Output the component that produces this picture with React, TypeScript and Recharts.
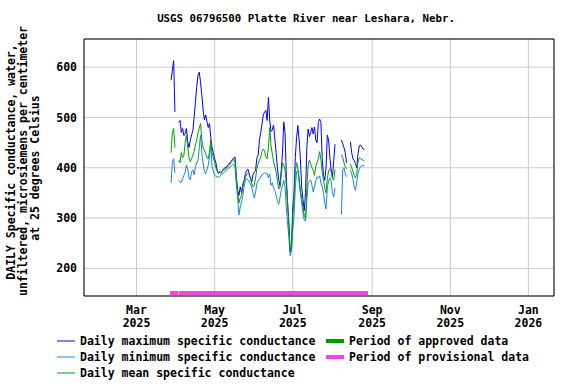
import { ComposedChart, Line, XAxis, YAxis, CartesianGrid, ReferenceArea } from "recharts";

const FONT = "'DejaVu Sans Mono', monospace";

// first day with data; one value per day after that (null = no record)
const firstDate = "2025-03-28";

const dailyMax = [
  574, 594, 613, 511, null, null, 490, 494, 470, 478, 464, 468, 478, 452, 440, 455, 465, 474, 500, 530,
  560, 584, 590, 570, 545, 515, 495, 505, 492, 480, 488, 460, 440, 430, 418, 410, 395, 390, 392, 390,
  394, 398, 400, 400, 405, 407, 410, 413, 417, 420, 421, 380, 355, 345, 362, 350, 368, 375, 388, 394,
  397, 388, 380, 372, 387, 391, 395, 420, 425, 455, 470, 487, 505, 511, 514, 494, 540, 495, 472, 475,
  485, 458, 430, 400, 377, 364, 395, 430, 491, 470, 380, 330, 290, 233, 245, 320, 350, 420, 460, 484,
  455, 417, 360, 337, 315, 351, 440, 477, 462, 470, 480, 467, 481, 455, 450, 490, 497, 490, 420, 385,
  375, 400, 465, 455, 420, 395, 381, 414, 447, null, 421, null, null, 455, 448, 440, 430, 410, null, null,
  452, 430, 418, 414, 408, 400, 428, 444, 445, 441, 437, 437,
];

const dailyMin = [
  370, 410, 418, 390, null, null, 375, 372, 371, 378, 385, 391, 405, 398, 380, 376, 392, 396, 386, 402,
  410, 414, 440, 465, 430, 410, 392, 388, 396, 405, 420, 445, 402, 394, 385, 383, 382, 381, 384, 386,
  387, 390, 393, 394, 396, 399, 401, 404, 406, 407, 401, 365, 340, 306, 322, 332, 345, 362, 374, 378,
  376, 372, 368, 360, 350, 340, 352, 368, 374, 378, 382, 386, 388, 390, 389, 388, 380, 388, 365, 370,
  360, 355, 345, 335, 327, 340, 355, 365, 375, 362, 320, 290, 260, 225, 235, 275, 305, 360, 392, 395,
  370, 348, 330, 310, 296, 294, 335, 368, 373, 376, 365, 352, 362, 375, 382, 380, 384, 370, 362, 350,
  330, 318, 360, 374, 380, 372, 350, 342, 360, null, null, null, null, 307, 396, 400, 388, 382, null, null,
  395, 388, 378, 362, 355, 372, 388, 398, 402, 404, 404, 404,
];

const dailyMean = [
  430, 470, 478, 440, null, null, 415, 410, 430, 420, 425, 450, 465, 440, 420, 412, 418, 425, 432, 445,
  455, 470, 478, 488, 455, 440, 435, 428, 420, 418, 432, 455, 430, 420, 410, 400, 393, 388, 392, 389,
  393, 396, 397, 398, 401, 404, 407, 411, 414, 417, 410, 375, 350, 330, 340, 345, 362, 372, 380, 387,
  389, 386, 378, 368, 362, 365, 380, 398, 408, 415, 421, 432, 437, 434, 422, 418, 440, 480, 445, 428,
  412, 402, 392, 375, 358, 360, 385, 410, 405, 395, 365, 325, 280, 236, 240, 300, 340, 390, 410, 400,
  380, 355, 340, 320, 305, 300, 360, 405, 415, 408, 400, 395, 385, 403, 410, 418, 432, 416, 392, 376,
  360, 350, 378, 394, 398, 392, 378, 375, 397, null, 400, null, null, 426, 420, 410, 402, 398, null, null,
  407, 400, 392, 384, 380, 388, 412, 420, 418, 416, 415, 414,
];

const tickDates = ["2025-03-01", "2025-05-01", "2025-07-01", "2025-09-01", "2025-11-01", "2026-01-01"];
const tickMonths = ["Mar", "May", "Jul", "Sep", "Nov", "Jan"];
const tickYears = ["2025", "2025", "2025", "2025", "2025", "2026"];
const yTicks = [200, 300, 400, 500, 600];

// provisional-data periods, days since 2025-01-01
const provisionalStart = [85.2, 92.1];
const provisionalEnd = [91.5, 239.8];

const X_DOMAIN = [18, 385];
const Y_DOMAIN = [145, 656];

const dayOf = (iso: string) => (Date.parse(iso) - Date.parse("2025-01-01")) / 86400000;

const startDay = dayOf(firstDate);
const data = dailyMax.map((v, i) => ({
  day: startDay + i,
  max: v,
  min: dailyMin[i],
  mean: dailyMean[i],
}));
const tickDays = tickDates.map(dayOf);

const textStyle = { fontFamily: FONT, fontWeight: "bold" as const, fontSize: 11.5, fill: "#000" };

const DateTick = ({ x, y, payload }: any) => {
  const i = tickDays.indexOf(payload.value);
  return (
    <g>
      <text x={x} y={y + 18} textAnchor="middle" {...textStyle}>
        {tickMonths[i]}
      </text>
      <text x={x} y={y + 31} textAnchor="middle" {...textStyle}>
        {tickYears[i]}
      </text>
    </g>
  );
};

const legendLines = [
  { label: "Daily maximum specific conductance", color: "#0000ff" },
  { label: "Daily minimum specific conductance", color: "#1a86d8" },
  { label: "Daily mean specific conductance", color: "#00a000" },
];
const legendBars = [
  { label: "Period of approved data", color: "#009900" },
  { label: "Period of provisional data", color: "#ee48dc" },
];

const App = () => {
  return (
    <div style={{ position: "absolute", left: 0, top: 0, width: 576, height: 384, background: "#fff" }}>
      <ComposedChart
        width={576}
        height={384}
        data={data}
        margin={{ top: 39, right: 22, bottom: 48, left: 0 }}
      >
        <CartesianGrid stroke="#cccccc" />
        <XAxis
          dataKey="day"
          type="number"
          domain={X_DOMAIN}
          ticks={tickDays}
          allowDataOverflow
          axisLine={false}
          tickLine={false}
          tickSize={0}
          tickMargin={0}
          height={40}
          tick={<DateTick />}
        />
        <YAxis
          type="number"
          domain={Y_DOMAIN}
          ticks={yTicks}
          allowDataOverflow
          axisLine={false}
          tickLine={false}
          tickSize={0}
          tickMargin={7}
          width={84}
          tick={textStyle}
        />
        {provisionalStart.map((s, i) => (
          <ReferenceArea
            key={`prov-${i}`}
            x1={s}
            x2={provisionalEnd[i]}
            y1={147}
            y2={155}
            fill="#ee48dc"
            fillOpacity={1}
            stroke="none"
          />
        ))}
        <Line dataKey="max" stroke="#0000ff" strokeWidth={1} dot={false} isAnimationActive={false} />
        <Line dataKey="min" stroke="#1a86d8" strokeWidth={1} dot={false} isAnimationActive={false} />
        <Line dataKey="mean" stroke="#00a000" strokeWidth={1} dot={false} isAnimationActive={false} />
        <ReferenceArea
          x1={X_DOMAIN[0]}
          x2={X_DOMAIN[1]}
          y1={Y_DOMAIN[0]}
          y2={Y_DOMAIN[1]}
          fill="none"
          stroke="#000"
          strokeWidth={1}
        />
      </ComposedChart>

      <svg width={576} height={384} style={{ position: "absolute", left: 0, top: 0, pointerEvents: "none" }}>
        <text x={306} y={22} textAnchor="middle" {...textStyle} fontSize={10.75}>
          USGS 06796500 Platte River near Leshara, Nebr.
        </text>
        <text transform="translate(15,162) rotate(-90)" textAnchor="middle" {...textStyle}>
          DAILY Specific conductance, water,
        </text>
        <text transform="translate(27,161) rotate(-90)" textAnchor="middle" {...textStyle}>
          unfiltered, microsiemens per centimeter
        </text>
        <text transform="translate(39,168) rotate(-90)" textAnchor="middle" {...textStyle}>
          at 25 degrees Celsius
        </text>
        {legendLines.map((l, i) => (
          <g key={l.label}>
            <line x1={57} x2={75} y1={341 + i * 16} y2={341 + i * 16} stroke={l.color} strokeWidth={1} />
            <text x={80} y={345 + i * 16} {...textStyle}>
              {l.label}
            </text>
          </g>
        ))}
        {legendBars.map((l, i) => (
          <g key={l.label}>
            <rect x={326} y={339 + i * 16} width={18} height={4} fill={l.color} />
            <text x={349} y={345 + i * 16} {...textStyle}>
              {l.label}
            </text>
          </g>
        ))}
      </svg>
    </div>
  );
};

export default App;
